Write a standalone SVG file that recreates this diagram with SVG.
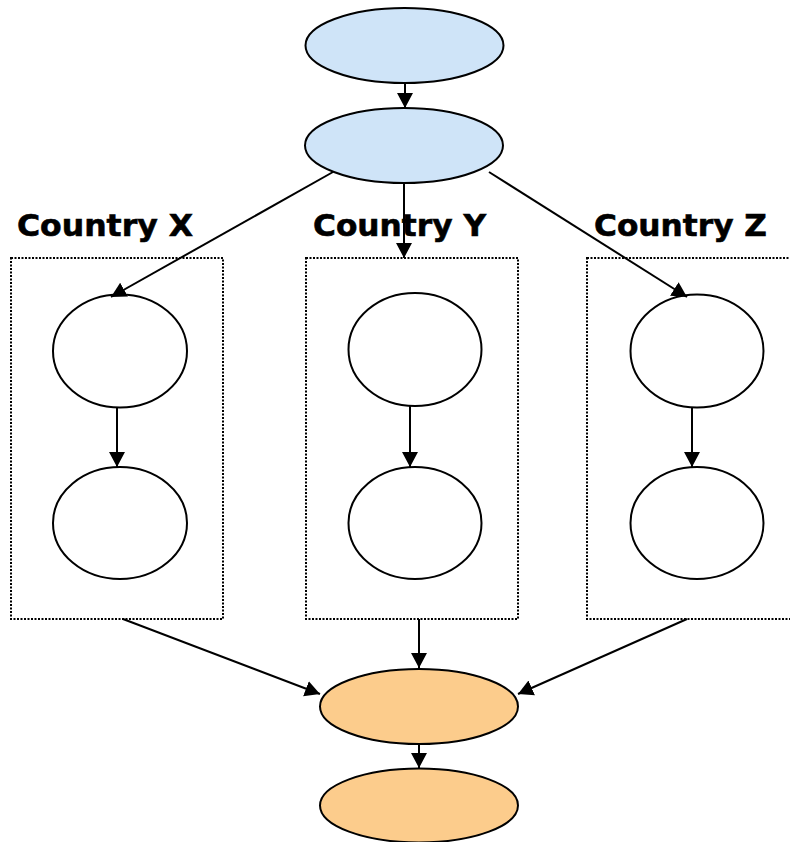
<svg xmlns="http://www.w3.org/2000/svg" width="790" height="842" viewBox="0 0 790 842">
<style>
.blue{fill:#cfe4f8;stroke:#000;stroke-width:2}
.orange{fill:#fccc8c;stroke:#000;stroke-width:2}
.white{fill:#fff;stroke:#000;stroke-width:2}
.box{fill:none;stroke:#000;stroke-width:2;stroke-dasharray:2 1.5}
.lbl{font-family:"DejaVu Sans",Verdana,sans-serif;font-weight:bold;font-size:31px;fill:#000;stroke:#000;stroke-width:0.6}
.con{stroke:#000;stroke-width:2;fill:none}
</style>
<defs>
<marker id="ah" viewBox="0 0 16 18" refX="15" refY="9" markerWidth="16" markerHeight="18" markerUnits="userSpaceOnUse" orient="auto">
<path d="M0,1 L15,9 L0,17 z" fill="#000"/>
</marker>
</defs>
<rect width="790" height="842" fill="#fff"/>
<g id="boxX"><rect class="box" x="11" y="258" width="212" height="361"/><text class="lbl" x="17" y="236" textLength="176" lengthAdjust="spacingAndGlyphs">Country X</text></g>
<g id="boxY"><rect class="box" x="306" y="258" width="212" height="361"/><text class="lbl" x="313" y="236" textLength="173" lengthAdjust="spacingAndGlyphs">Country Y</text></g>
<g id="boxZ"><rect class="box" x="587" y="258" width="212" height="361"/><text class="lbl" x="594" y="236" textLength="173" lengthAdjust="spacingAndGlyphs">Country Z</text></g>
<g id="top1"><ellipse class="blue" cx="404.5" cy="45.5" rx="99" ry="37.5"/></g>
<g id="top2"><ellipse class="blue" cx="404" cy="145.5" rx="99" ry="37.5"/></g>
<g id="x1"><ellipse class="white" cx="120" cy="351" rx="67" ry="56.5"/></g>
<g id="x2"><ellipse class="white" cx="120" cy="523" rx="67" ry="56"/></g>
<g id="y1"><ellipse class="white" cx="415" cy="349.5" rx="66.5" ry="56.5"/></g>
<g id="y2"><ellipse class="white" cx="415" cy="523" rx="66.5" ry="56"/></g>
<g id="z1"><ellipse class="white" cx="697" cy="351" rx="66.5" ry="56.5"/></g>
<g id="z2"><ellipse class="white" cx="697" cy="523" rx="66.5" ry="56"/></g>
<g id="bot1"><ellipse class="orange" cx="419" cy="706.5" rx="99" ry="37.5"/></g>
<g id="bot2"><ellipse class="orange" cx="419" cy="805.5" rx="99" ry="37"/></g>
<g id="connectors" marker-end="url(#ah)">
<line class="con" x1="405" y1="83" x2="405" y2="108" marker-end="url(#ah)"/>
<line class="con" x1="333" y1="172" x2="111" y2="297" marker-end="url(#ah)"/>
<line class="con" x1="404" y1="183" x2="404" y2="258" marker-end="url(#ah)"/>
<line class="con" x1="489" y1="172" x2="687" y2="297" marker-end="url(#ah)"/>
<line class="con" x1="117" y1="407" x2="117" y2="467" marker-end="url(#ah)"/>
<line class="con" x1="410" y1="406" x2="410" y2="467" marker-end="url(#ah)"/>
<line class="con" x1="692" y1="407" x2="692" y2="467" marker-end="url(#ah)"/>
<line class="con" x1="123" y1="619" x2="320" y2="694" marker-end="url(#ah)"/>
<line class="con" x1="419" y1="619" x2="419" y2="668" marker-end="url(#ah)"/>
<line class="con" x1="687" y1="619" x2="518" y2="694" marker-end="url(#ah)"/>
<line class="con" x1="419" y1="744" x2="419" y2="768" marker-end="url(#ah)"/>
</g>
</svg>
